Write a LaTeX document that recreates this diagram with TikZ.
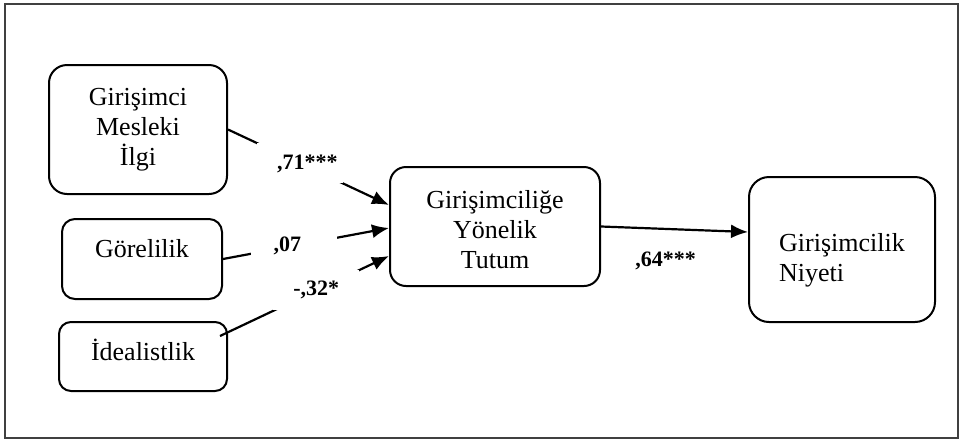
\documentclass[tikz,border=0pt]{standalone}
\usepackage{fontspec}
\setmainfont{Liberation Serif}
\usepackage{tikz}
\usetikzlibrary
  {
    arrows.meta,   % filled arrow heads
    calc,          % shifted end points on the box borders
  }

\begin{document}
\begin{tikzpicture}
    [
      x=1pt, y=-1pt,
      construct/.style=
        {
          rectangle,
          rounded corners=18pt,
          draw=black,
          line width=2pt,
          align=center,
          inner sep=0pt,
          font=\fontsize{26}{30}\selectfont,
        },
      coef/.style=
        {
          inner sep=0pt,
          font=\bfseries\fontsize{22}{26}\selectfont,
        },
      gap coef/.style=
        {
          coef,
          fill=white,
          minimum width=86pt,
          minimum height=40pt,
        },
      effect/.style=
        {
          line width=2.2pt,
          -{Latex[length=17pt,width=14pt]},
        },
    ]
    \useasboundingbox (0,0) rectangle (961,440);
    \draw[black!75, line width=1.3pt] (5,4) rectangle (958,438);

    % predictors
    \node[construct, minimum width=178pt, minimum height=129pt]
      (ilgi)        at (138,129.5) {Girişimci\\Mesleki\\İlgi};
    \node[construct, rounded corners=13pt, minimum width=160pt, minimum height=80pt, text depth=22pt]
      (gorelilik)   at (142,259)   {Görelilik};
    \node[construct, rounded corners=12pt, minimum width=168pt, minimum height=69pt, text depth=13pt]
      (idealistlik) at (143,356.5) {İdealistlik};

    % mediator and outcome
    \node[construct, rounded corners=16pt, minimum width=210pt, minimum height=119pt, text height=84pt]
      (tutum)       at (495,226.5) {Girişimciliğe\\Yönelik\\Tutum};
    \node[construct, rounded corners=20pt, minimum width=186pt, minimum height=145pt, align=left, text height=69pt]
      (niyet)       at (842,249.5) {Girişimcilik\\Niyeti};

    % paths
    \draw[effect] (ilgi.east)
      -- node[gap coef, pos=0.45] {\hspace*{14pt},71***} ($(tutum.west)+(0,-21.5)$);
    \draw[effect] (gorelilik.east)
      -- node[gap coef, pos=0.43] {,07\hspace*{14pt}} ($(tutum.west)+(0,1.5)$);
    \draw[effect] ($(idealistlik.east)+(-8,-20.5)$)
      -- node[gap coef, pos=0.57] {-,32*} ($(tutum.west)+(0,29.5)$);
    \draw[effect] (tutum.east)
      -- node[coef, below=22pt, pos=0.44] {,64***} ($(niyet.west)+(0,-17.5)$);
\end{tikzpicture}
\end{document}
